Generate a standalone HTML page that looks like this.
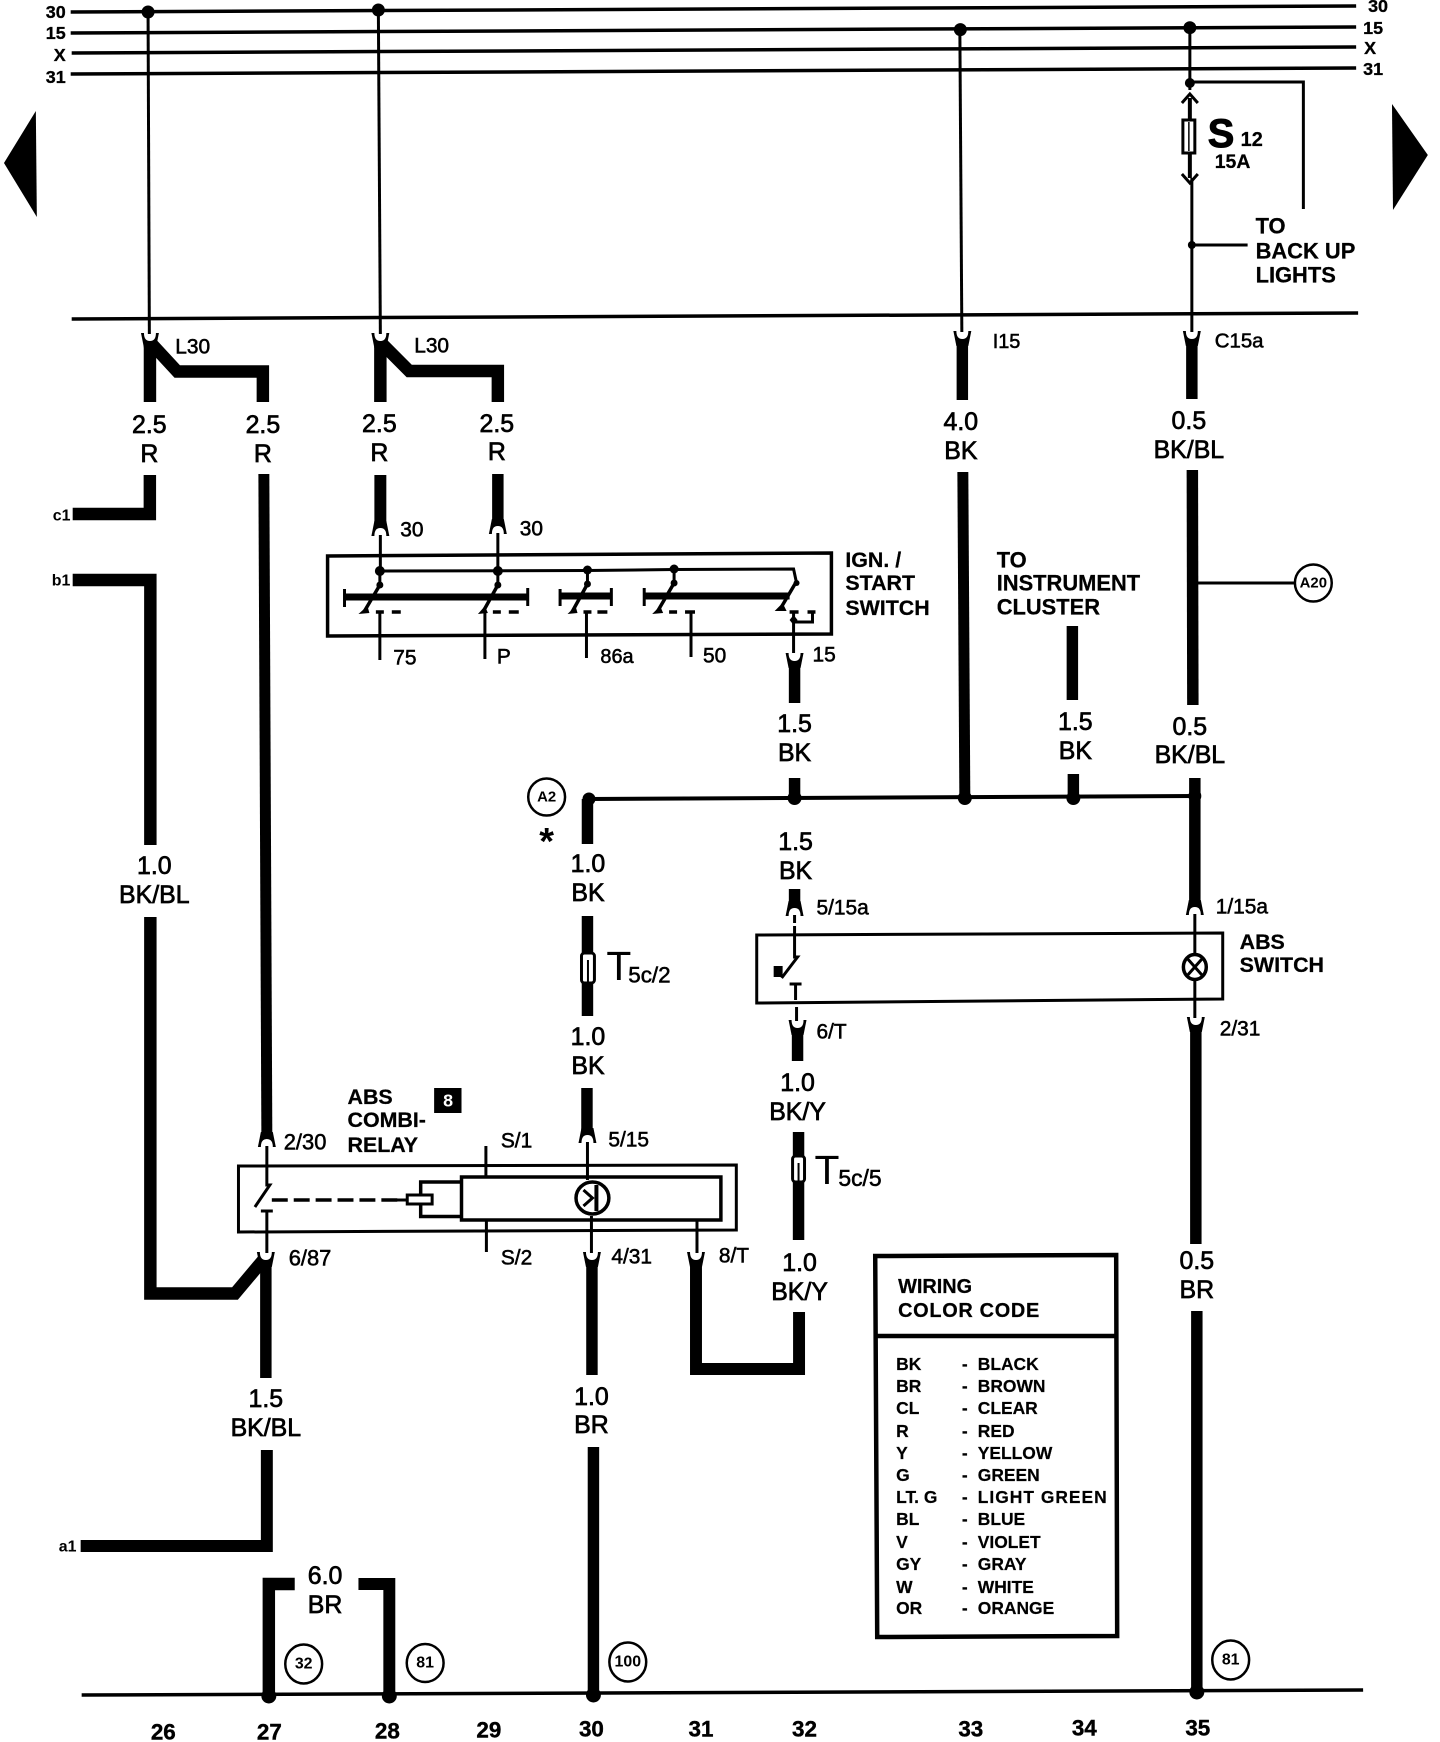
<!DOCTYPE html>
<html><head><meta charset="utf-8"><title>ABS wiring diagram</title>
<style>
html,body{margin:0;padding:0;background:#fff;width:1440px;height:1742px;overflow:hidden}
svg{display:block}
text{font-family:"Liberation Sans",sans-serif;fill:#000;dominant-baseline:central}
.w{font-size:25px;text-anchor:middle;stroke:#000;stroke-width:.7}
.p{font-size:21px;stroke:#000;stroke-width:.55}
.b{font-size:21.5px;font-weight:bold;stroke:#000;stroke-width:.25}
.n{font-size:22.5px;font-weight:bold;text-anchor:middle;stroke:#000;stroke-width:.4}
.s{font-size:18px;font-weight:bold;stroke:#000;stroke-width:.3}
.c{font-size:15px;font-weight:bold;text-anchor:middle}
.t{font-size:17.5px;font-weight:bold;stroke:#000;stroke-width:.2}
.h{font-size:20px;font-weight:bold;stroke:#000;stroke-width:.25}
.thin{fill:none;stroke:#000;stroke-width:3}
.th{fill:none;stroke:#000;stroke-width:11.5;stroke-linejoin:miter;stroke-miterlimit:1.5}
.mid{fill:none;stroke:#000;stroke-width:4}
</style></head><body>
<svg width="1440" height="1742" viewBox="0 0 1440 1742" xmlns="http://www.w3.org/2000/svg">
<defs>
<g id="d">
<path d="M-9 -5L-6.5 -5L6.5 -5L9 -5L6 10H-6Z" fill="#000"/>
<path d="M-6 -9H6V-5Q6 3 0 3Q-6 3 -6 -5Z" fill="#fff"/>
</g>
</defs>
<rect width="1440" height="1742" fill="#fff"/>
<g transform="scale(0.9957 1)">

<!-- page triangles -->
<polygon points="36,111 4,163 37,217" fill="#000"/>
<polygon points="1398,104 1434,155 1399,210" fill="#000"/>

<!-- thick wires -->
<g class="th">
<path d="M150.6 402V342L178 371.5H264V402" style="stroke-width:12.5"/>
<path d="M382 402V342L411 371H500V402" style="stroke-width:12.5"/>
<path d="M73 514H150.5V475" style="stroke-width:12.5"/>
<path d="M382 475V531" style="stroke-width:12"/>
<path d="M500 474V529"/>
<path d="M265 474L268 1135" style="stroke-width:11"/>
<path d="M73 580H151V845" style="stroke-width:12.5"/>
<path d="M151 917V1293.5H236L266 1258" style="stroke-width:12.5"/>
<path d="M267 1262V1378" style="stroke-width:11.5"/>
<path d="M268 1450V1546H81" style="stroke-width:12"/>
<path d="M296 1584H270 V1696" style="stroke-width:12.5"/>
<path d="M360 1584H391V1696" style="stroke-width:12"/>
<path d="M966.5 336V400"/><path d="M1197 336V399"/>
<path d="M967 472L969 798" style="stroke-width:11"/>
<path d="M1197.5 470L1198 705"/>
<path d="M1077 626V700"/><path d="M1078 774V798"/>
<path d="M798 658V703"/><path d="M798 778V802"/><path d="M798 889V911"/>
<path d="M590 799V844"/><path d="M590 916V1016"/><path d="M589.5 1088V1138"/>
<path d="M594.5 1257V1375"/><path d="M596 1447V1695"/>
<path d="M1200 778V910"/>
<path d="M1201 1022V1244"/><path d="M1202 1311V1692"/>
<path d="M801 1025V1061"/><path d="M802 1132V1240"/>
<path d="M699 1255V1369H802.5V1312" style="stroke-width:12"/>
</g>

<!-- sockets: thin above, thick below -->
<use href="#d" x="150.6" y="338"/><use href="#d" x="382" y="338"/><use href="#d" x="966.5" y="336"/><use href="#d" x="1197" y="336"/>
<use href="#d" x="798" y="658"/><use href="#d" x="267" y="1257"/><use href="#d" x="594.5" y="1257"/><use href="#d" x="699" y="1257"/><use href="#d" x="1201" y="1022"/><use href="#d" x="801" y="1025"/>
<!-- sockets: thick above, thin below -->
<use href="#d" transform="translate(382,531) scale(1,-1)"/><use href="#d" transform="translate(500,529) scale(1,-1)"/>
<use href="#d" transform="translate(268,1142) scale(1,-1)"/><use href="#d" transform="translate(590,1138) scale(1,-1)"/>
<use href="#d" transform="translate(798,911) scale(1,-1)"/><use href="#d" transform="translate(1200,910) scale(1,-1)"/>

<!-- top buses -->
<g class="thin" style="stroke-width:3.5">
<path d="M71 12L1362 6"/><path d="M71 33L1362 27"/><path d="M72 53L1362 47"/><path d="M71 74L1362 68"/>
<path d="M72 319L1364 313"/>
<path d="M82 1695L1369 1690"/>
</g>
<g class="s" text-anchor="end">
<text x="66" y="12">30</text><text x="66" y="33">15</text><text x="66" y="55">X</text><text x="66" y="77">31</text>
</g>
<g class="s">
<text x="1374" y="6">30</text><text x="1369" y="28">15</text><text x="1370" y="48">X</text><text x="1369" y="69">31</text>
</g>

<!-- thin verticals from buses -->
<g class="thin">
<path d="M148.7 12L150 334"/><path d="M380 11L382 334"/><path d="M964 30L966 332"/><path d="M1195 28V90"/><path d="M1197 178V332"/>
<path d="M1195 82H1309V209"/><path d="M1197 245H1253"/>
</g>
<g fill="#000">
<circle cx="148.7" cy="12" r="6.5"/><circle cx="380" cy="10" r="6.5"/><circle cx="964.5" cy="29.6" r="6.5"/><circle cx="1195" cy="27.7" r="6.5"/>
<circle cx="1195" cy="83" r="5"/><circle cx="1197" cy="245" r="4"/>
</g>

<!-- fuse S12 -->
<path d="M1187 103L1195 94L1203 103" class="thin"/>
<path d="M1187 174L1195 183L1203 174" class="thin"/>
<path d="M1195 98V119M1195 153V178" class="mid"/>
<rect x="1188" y="120" width="12" height="33" fill="#fff" stroke="#000" stroke-width="3"/>
<path d="M1194 122V151" class="thin" style="stroke-width:1.5"/>
<text x="1213" y="134" style="font-size:40px;font-weight:bold;stroke:#000;stroke-width:1">S</text>
<text x="1246" y="140" class="b" style="font-size:20px">12</text>
<text x="1220" y="162" class="b" style="font-size:19.5px">15A</text>
<g class="b" style="font-size:22px">
<text x="1261" y="226">TO</text><text x="1261" y="251">BACK UP</text><text x="1261" y="275">LIGHTS</text>
</g>
<text x="997" y="342" class="p" style="font-size:20px">I15</text>
<text x="1220" y="341" class="p" style="font-size:20.5px">C15a</text>

<!-- wire labels -->
<g class="w">
<text x="150" y="425">2.5</text><text x="150" y="454">R</text>
<text x="264" y="425">2.5</text><text x="264" y="454">R</text>
<text x="381" y="424">2.5</text><text x="381" y="453">R</text>
<text x="499" y="424">2.5</text><text x="499" y="452">R</text>
<text x="965" y="422">4.0</text><text x="965" y="451">BK</text>
<text x="1194" y="421">0.5</text><text x="1194" y="450">BK/BL</text>
<text x="155" y="866">1.0</text><text x="155" y="895">BK/BL</text>
<text x="798" y="724">1.5</text><text x="798" y="753">BK</text>
<text x="1080" y="722">1.5</text><text x="1080" y="751">BK</text>
<text x="1195" y="727">0.5</text><text x="1195" y="755">BK/BL</text>
<text x="799" y="842">1.5</text><text x="799" y="871">BK</text>
<text x="590.5" y="864">1.0</text><text x="590.5" y="893">BK</text>
<text x="590.5" y="1037">1.0</text><text x="590.5" y="1066">BK</text>
<text x="801" y="1083">1.0</text><text x="801" y="1112">BK/Y</text>
<text x="803" y="1263">1.0</text><text x="803" y="1292">BK/Y</text>
<text x="267" y="1399">1.5</text><text x="267" y="1428">BK/BL</text>
<text x="594" y="1397">1.0</text><text x="594" y="1425">BR</text>
<text x="1202" y="1261">0.5</text><text x="1202" y="1290">BR</text>
<text x="326.5" y="1576">6.0</text><text x="326.5" y="1605">BR</text>
</g>

<g class="p">
<text x="176" y="347">L30</text><text x="416" y="346">L30</text>
<text x="402" y="530">30</text><text x="522" y="529">30</text>
<text x="395" y="658">75</text><text x="499" y="657">P</text><text x="603" y="657" style="font-size:20px">86a</text><text x="706" y="656">50</text><text x="816" y="655">15</text>
<text x="285" y="1142" style="font-size:22px">2/30</text><text x="503" y="1141">S/1</text><text x="611" y="1140">5/15</text>
<text x="290" y="1258" style="font-size:22px">6/87</text><text x="503" y="1258">S/2</text><text x="614" y="1257">4/31</text><text x="722" y="1256">8/T</text>
<text x="820" y="908">5/15a</text><text x="1221" y="907">1/15a</text><text x="820" y="1032">6/T</text><text x="1225" y="1029">2/31</text>
</g>
<g style="font-size:16px;font-weight:bold">
<text x="53" y="516">c1</text><text x="52" y="581">b1</text><text x="59" y="1547">a1</text>
</g>

<!-- IGN / START switch -->
<path d="M329 556L835 553V634L329 636Z" class="thin" style="stroke-width:3.5"/>
<path d="M382 535V571M500 533V571M381.5 571L590 570.5L677 569.5L797 569L800 583" class="thin"/>
<path d="M381.5 571V585M500 571V585M590 570V584M677 569V583" class="thin"/>
<g fill="#000">
<circle cx="381.5" cy="571" r="5"/><circle cx="500" cy="571" r="5"/><circle cx="590" cy="570" r="4.5"/><circle cx="677" cy="569" r="4.5"/><circle cx="381.5" cy="585" r="3.5"/><circle cx="500" cy="585" r="3.5"/><circle cx="590" cy="584" r="3.5"/><circle cx="677" cy="583" r="3.5"/><circle cx="800" cy="583" r="3"/>
</g>
<path d="M346 597H530M562.5 596H614M647 596H793" fill="none" stroke="#000" stroke-width="7"/>
<path d="M346 589V607M530 588V606M562.5 589V606M614 588V606M647 588V606" class="thin"/>
<g class="thin" style="stroke-width:3.5">
<path d="M381.5 585L365.5 612M500 585L485 612M590 584L574.5 612M677 583L660 612M799 583L783 610"/>
</g>
<path d="M377.5 612H385.5M393.5 612H402.5M495 612H503M511 612H521M586 612H594M600 612H610M672 612H680M688 612H698M793 612H802M811 612H819" fill="none" stroke="#000" stroke-width="3.5"/>
<path d="M360 614L371 613L369 606ZM480 614L490 613L487 606ZM570 614L580 613L578 606ZM655 614L666 613L663 606ZM778 611L790 611L786 603Z" fill="#000"/>
<path d="M381.5 612V660M487 612V659M589 612V658M694 612V657M797 612V653M797 622H816V612" class="thin"/>
<path d="M797 615L801 620L797 625L793 620Z" fill="#000"/>
<g class="b"><text x="849" y="560">IGN. /</text><text x="849" y="583">START</text><text x="849" y="608">SWITCH</text></g>
<g class="b" style="font-size:22px"><text x="1001" y="560">TO</text><text x="1001" y="583">INSTRUMENT</text><text x="1001" y="607">CLUSTER</text></g>

<!-- A20 and A2 -->
<path d="M1198 583H1300" class="thin"/>
<circle cx="1198" cy="583" r="4.5" fill="#000"/>
<circle cx="1319" cy="583" r="18.5" fill="#fff" stroke="#000" stroke-width="2.5"/>
<text x="1319" y="583" class="c">A20</text>
<circle cx="549" cy="797" r="18.5" fill="#fff" stroke="#000" stroke-width="2.5"/>
<text x="549" y="797" class="c">A2</text>
<text x="549" y="842" style="font-size:38px;font-weight:bold;text-anchor:middle">*</text>
<path d="M591.5 799L1200 796" class="mid"/>
<circle cx="591.5" cy="799" r="6.5" fill="#000"/><circle cx="798" cy="798" r="7" fill="#000"/><circle cx="969" cy="798" r="7" fill="#000"/><circle cx="1078" cy="798" r="7" fill="#000"/><circle cx="1200" cy="796" r="6.5" fill="#000"/>

<!-- T5c connectors -->
<rect x="584" y="953" width="13" height="30" rx="3" fill="#fff" stroke="#000" stroke-width="3"/>
<path d="M590.5 960V982" class="thin" style="stroke-width:2"/>
<text x="609" y="966" style="font-size:41px">T</text>
<text x="631" y="975" class="p" style="font-size:22.5px">5c/2</text>
<rect x="796" y="1156" width="12" height="26" rx="3" fill="#fff" stroke="#000" stroke-width="3"/>
<path d="M802 1163V1181" class="thin" style="stroke-width:2"/>
<text x="818" y="1170" style="font-size:41px">T</text>
<text x="842" y="1178" class="p" style="font-size:23px">5c/5</text>

<!-- ABS switch -->
<path d="M760 935L1228 933V999L760 1003Z" class="thin"/>
<path d="M798 915V923M798 926V957L801 957L785 978M799 984V1000M800 1007V1021" class="thin"/>
<path d="M793 984H805" class="thin"/>
<rect x="777" y="966" width="9" height="11" fill="#000"/>
<path d="M1200 914V953M1200 981V1018" class="thin"/>
<ellipse cx="1200" cy="967" rx="11.5" ry="12.5" fill="#fff" stroke="#000" stroke-width="3.5"/>
<path d="M1192 958L1208 976M1208 958L1192 976" class="thin"/>
<g class="b"><text x="1245" y="942">ABS</text><text x="1245" y="965">SWITCH</text></g>

<!-- relay -->
<path d="M239.5 1166L739.5 1165V1230L239.5 1232Z" class="thin"/>
<rect x="463.5" y="1177" width="260.5" height="43" fill="#fff" stroke="#000" stroke-width="3.5"/>
<path d="M463 1182H422.5V1216.5H463" class="thin" style="stroke-width:3.5"/>
<rect x="409" y="1195" width="25" height="9" fill="#fff" stroke="#000" stroke-width="3"/>
<path d="M273 1200H401" fill="none" stroke="#000" stroke-width="3.5" stroke-dasharray="16 6"/>
<path d="M393 1200H409" class="thin"/>
<path d="M268 1146V1185L271 1185L256 1207M268 1211V1253M262 1211H274" class="thin"/>
<path d="M488 1146V1177M488.5 1220V1252M590 1142V1180M594 1216V1253M700 1220V1253" class="thin"/>
<ellipse cx="595" cy="1198" rx="16.5" ry="16" fill="#fff" stroke="#000" stroke-width="3.5"/>
<path d="M599 1185V1211" class="thin" style="stroke-width:4"/>
<path d="M586 1190L595 1198L586 1206" class="thin"/>
<g class="b"><text x="349" y="1097">ABS</text><text x="349" y="1120">COMBI-</text><text x="349" y="1145">RELAY</text></g>
<rect x="436" y="1088" width="27.5" height="25" fill="#000"/>
<text x="450" y="1100.5" style="font-size:18px;font-weight:bold;fill:#fff;text-anchor:middle">8</text>

<!-- color code box -->
<g transform="translate(4,0)">
<path d="M875 1256L1117 1255L1118 1636L877 1637Z" class="mid" style="stroke-width:4.5"/>
<path d="M876 1336H1117" class="mid" style="stroke-width:4.5"/>
<text x="898" y="1287" class="h">WIRING</text>
<text x="898" y="1311" class="h" style="letter-spacing:.7px">COLOR CODE</text>
<g class="t">
<text x="896" y="1364">BK</text><text x="962" y="1364">-</text><text x="978" y="1364">BLACK</text>
<text x="896" y="1386">BR</text><text x="962" y="1386">-</text><text x="978" y="1386">BROWN</text>
<text x="896" y="1408">CL</text><text x="962" y="1408">-</text><text x="978" y="1408">CLEAR</text>
<text x="896" y="1431">R</text><text x="962" y="1431">-</text><text x="978" y="1431">RED</text>
<text x="896" y="1453">Y</text><text x="962" y="1453">-</text><text x="978" y="1453">YELLOW</text>
<text x="896" y="1475">G</text><text x="962" y="1475">-</text><text x="978" y="1475">GREEN</text>
<text x="896" y="1497">LT. G</text><text x="962" y="1497">-</text><text x="978" y="1497" style="letter-spacing:1px">LIGHT GREEN</text>
<text x="896" y="1519">BL</text><text x="962" y="1519">-</text><text x="978" y="1519">BLUE</text>
<text x="896" y="1542">V</text><text x="962" y="1542">-</text><text x="978" y="1542">VIOLET</text>
<text x="896" y="1564">GY</text><text x="962" y="1564">-</text><text x="978" y="1564">GRAY</text>
<text x="896" y="1587">W</text><text x="962" y="1587">-</text><text x="978" y="1587">WHITE</text>
<text x="896" y="1608">OR</text><text x="962" y="1608">-</text><text x="978" y="1608">ORANGE</text>
</g>
</g>

<!-- ground dots and circles -->
<g fill="#000">
<circle cx="270" cy="1696" r="7.5"/><circle cx="391" cy="1696" r="7.5"/><circle cx="596" cy="1695" r="7.5"/><circle cx="1202" cy="1692" r="7.5"/>
</g>
<g fill="#fff" stroke="#000" stroke-width="2.5">
<ellipse cx="305" cy="1664" rx="18.5" ry="19.5"/><ellipse cx="427" cy="1663" rx="18.5" ry="19"/><ellipse cx="630.5" cy="1662" rx="18.5" ry="19.5"/><ellipse cx="1236" cy="1660" rx="18.5" ry="19.5"/>
</g>
<g class="c" style="font-size:16px">
<text x="305" y="1664">32</text><text x="427" y="1663">81</text><text x="630.5" y="1662">100</text><text x="1236" y="1660">81</text>
</g>

<!-- column numbers -->
<g class="n">
<text x="164" y="1732">26</text><text x="270.5" y="1732">27</text><text x="389" y="1731">28</text><text x="491" y="1730">29</text><text x="594" y="1729">30</text><text x="704" y="1729">31</text><text x="808" y="1729">32</text><text x="975" y="1729">33</text><text x="1089" y="1728">34</text><text x="1203" y="1728">35</text>
</g>
</g>
</svg>
</body></html>
